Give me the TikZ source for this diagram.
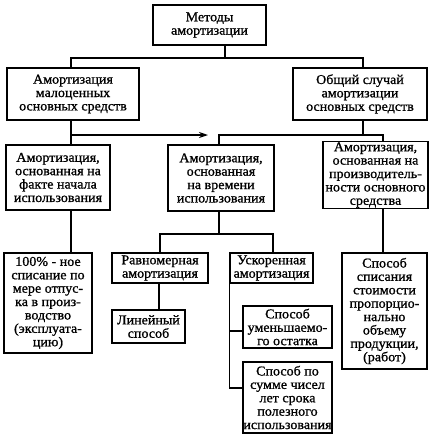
\documentclass[tikz,border=0pt]{standalone}
\usepackage{fontspec}
\setmainfont[FakeStretch=1.04,FakeBold=1.0]{Liberation Serif}
\usetikzlibrary{arrows.meta}
\begin{document}
\begin{tikzpicture}[x=1pt,y=1pt,
  box/.style={draw, line width=1.2pt, inner sep=0.5pt, align=center,
    font=\fontsize{13.5}{13.4}\selectfont},
  conn/.style={line width=1.2pt}]
\useasboundingbox (0,0) rectangle (432,-440);
\fill[white] (0,0) rectangle (432,-440);

\node[box, minimum width=113, minimum height=40] (top) at (209.5,-25) {Методы\\амортизации};
\node[box, minimum width=132, minimum height=52] (amL) at (73,-94) {Амортизация\\малоценных\\основных средств};
\node[box, minimum width=134, minimum height=52] (amR) at (360,-94) {Общий случай\\амортизации\\основных средств};
\node[box, minimum width=104, minimum height=65] (L1) at (58,-177.5) {Амортизация,\\основанная на\\факте начала\\использования};
\node[box, minimum width=106, minimum height=66] (M1) at (221,-178) {Амортизация,\\основанная\\на времени\\использования};
\node[box, minimum width=105, minimum height=60] (R1) at (375.5,-175) {Амортизация,\\основанная на\\производитель-\\ности основного\\средства};
\node[box, minimum width=88, minimum height=100] (L2) at (48,-303) {100\% - ное\\списание по\\мере отпус-\\ка в произ-\\водство\\(эксплуата-\\цию)};
\node[box, minimum width=96, minimum height=30] (Rav) at (160,-268) {Равномерная\\амортизация};
\node[box, minimum width=83, minimum height=30] (Usk) at (271.5,-268) {Ускоренная\\амортизация};
\node[box, minimum width=73, minimum height=33] (Lin) at (148.5,-326.5) {Линейный\\способ};
\node[box, minimum width=89, minimum height=42] (Umen) at (287.5,-327) {Способ\\уменьшаемо-\\го остатка};
\node[box, minimum width=89, minimum height=71] (Sum) at (287.5,-397.5) {Способ по\\сумме чисел\\лет срока\\полезного\\использования};
\node[box, minimum width=85, minimum height=116] (R2) at (384.5,-311) {Способ\\списания\\стоимости\\пропорцио-\\нально\\объему\\продукции,\\(работ)};

\coordinate (j0) at (225,-58);
\coordinate (xL) at (71,0);
\coordinate (xR) at (363,0);
\coordinate (a0) at (71,-135);
\coordinate (a1) at (208,-135);
\coordinate (r0) at (363,-135);
\coordinate (xM) at (219,0);
\coordinate (xR1) at (383,0);
\coordinate (b0) at (219,-234);
\coordinate (xRav) at (160,0);
\coordinate (xUsk) at (273,0);
\coordinate (xLin) at (159,0);
\coordinate (yS) at (0,-388);
\coordinate (yU) at (0,-331);

\draw[conn] (top.south -| j0) -- (j0);
\draw[conn] (amL.north -| xL) |- (j0) -| (amR.north -| xR);
\draw[conn] (amL.south -| xL) -- (L1.north -| xL);
\draw[conn, -{Stealth[length=9pt,width=6pt]}] (a0) -- (a1);
\draw[conn] (amR.south -| r0) -- (r0);
\draw[conn] (M1.north -| xM) |- (r0) -| (R1.north -| xR1);
\draw[conn] (L1.south -| xL) -- (L2.north -| xL);
\draw[conn] (M1.south -| b0) -- (b0);
\draw[conn] (Rav.north -| xRav) |- (b0) -| (Usk.north -| xUsk);
\draw[conn] (Rav.south -| xLin) -- (Lin.north -| xLin);
\draw[conn] (Usk.south west) |- (Sum.west |- yS);
\draw[conn] (Usk.south west |- yU) -- (Umen.west |- yU);
\draw[conn] (R1.south -| xR1) -- (R2.north -| xR1);
\end{tikzpicture}
\end{document}
